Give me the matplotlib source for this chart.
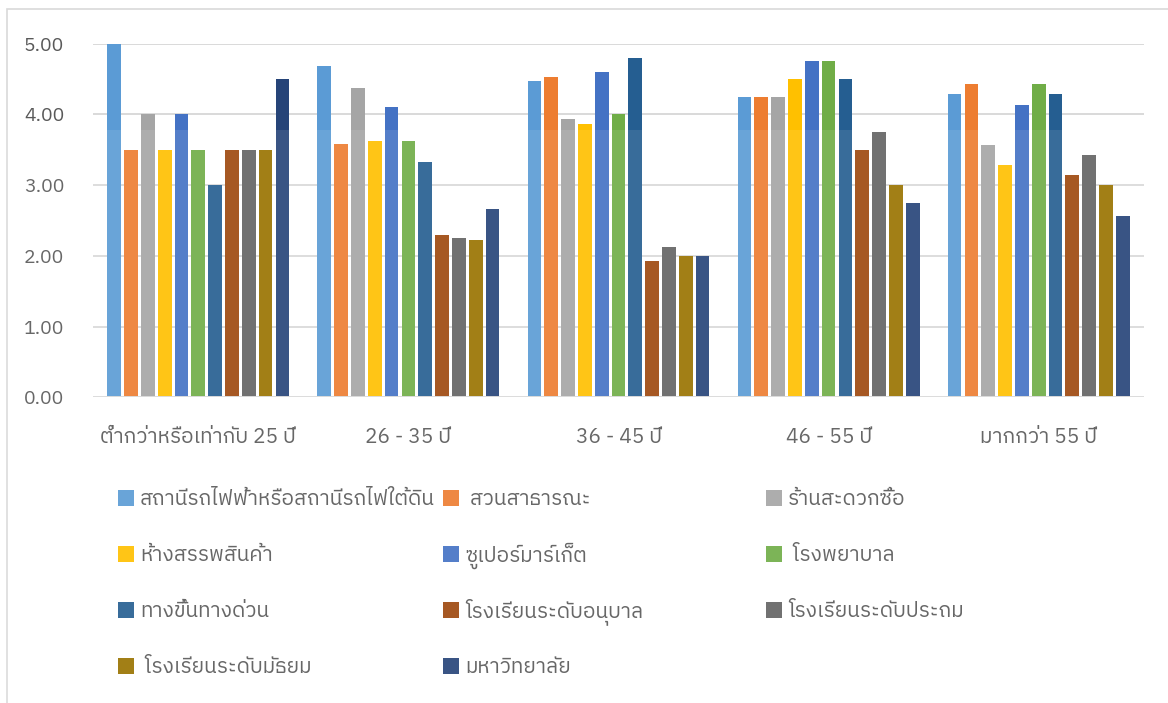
import numpy as np
import matplotlib
matplotlib.use('Agg')
import matplotlib.pyplot as plt
from matplotlib import font_manager
from matplotlib.ft2font import FT2Font
from matplotlib.patches import Rectangle

age_groups = ['ต่ำกว่าหรือเท่ากับ 25 ปี', '26 - 35 ปี', '36 - 45 ปี',
              '46 - 55 ปี', 'มากกว่า 55 ปี']

places = ['สถานีรถไฟฟ้าหรือสถานีรถไฟใต้ดิน', ' สวนสาธารณะ', 'ร้านสะดวกซื้อ',
          'ห้างสรรพสินค้า', 'ซูเปอร์มาร์เก็ต', ' โรงพยาบาล',
          'ทางขึ้นทางด่วน', 'โรงเรียนระดับอนุบาล', 'โรงเรียนระดับประถม',
          ' โรงเรียนระดับมัธยม', 'มหาวิทยาลัย']

# mean score of each place, one list per age group (same order as places)
age_25_down = [5.00, 3.50, 4.00, 3.50, 4.00, 3.50, 3.00, 3.50, 3.50, 3.50, 4.50]
age_26_35 = [4.69, 3.58, 4.38, 3.63, 4.10, 3.63, 3.33, 2.29, 2.25, 2.23, 2.67]
age_36_45 = [4.47, 4.53, 3.93, 3.87, 4.60, 4.00, 4.80, 1.93, 2.13, 2.00, 2.00]
age_46_55 = [4.25, 4.25, 4.25, 4.50, 4.75, 4.75, 4.50, 3.50, 3.75, 3.00, 2.75]
age_55_up = [4.29, 4.43, 3.57, 3.29, 4.14, 4.43, 4.29, 3.14, 3.43, 3.00, 2.57]

colors = ['#5B9BD5', '#ED7D31', '#A5A5A5', '#FFC000', '#4472C4', '#70AD47',
          '#255E91', '#9E480E', '#636363', '#997300', '#264478']


def find_thai_font():
    # look for an installed family that actually has Thai glyphs
    found = []
    for f in font_manager.fontManager.ttflist:
        try:
            cmap = FT2Font(f.fname).get_charmap()
        except Exception:
            continue
        if 0x0E01 in cmap and 0x0E35 in cmap:
            found.append(f.name)
    if not found:
        return None
    found.sort(key=lambda n: (0 if 'Thai' in n else 1, 0 if 'Sans' in n else 1, n))
    return found[0]


thai = find_thai_font()
fams = ([thai] if thai else []) + ['Noto Sans', 'DejaVu Sans']
plt.rcParams['font.family'] = fams

W, H = 1168, 703
fig = plt.figure(figsize=(W / 100, H / 100), dpi=100)
ax = fig.add_axes([93.3 / W, 1 - 397.4 / H, 1050.4 / W, (397.4 - 43.7) / H])

scores = np.array([age_25_down, age_26_35, age_36_45, age_46_55, age_55_up])
x = np.arange(len(age_groups))
slot = 0.0801
bw = 0.0652
handles = []
for j, name in enumerate(places):
    b = ax.bar(x + (j - 5) * slot, scores[:, j], bw, color=colors[j],
               linewidth=0, zorder=3)
    handles.append(b)

ax.set_xlim(-0.5, 4.5)
ax.set_ylim(0, 5)
ax.set_yticks(np.arange(0, 5.01, 1))
ax.set_yticklabels(['%.2f' % v for v in np.arange(0, 5.01, 1)])
ax.set_xticks(x)
ax.set_xticklabels(age_groups)
ax.grid(axis='y', color='#D9D9D9', linewidth=1.4, zorder=0)
ax.set_axisbelow(True)
for s in ax.spines.values():
    s.set_visible(False)
ax.axhline(0, color='#D9D9D9', linewidth=1.4, zorder=4)
ax.tick_params(axis='both', length=0, colors='#595959')
ax.tick_params(axis='y', pad=21, labelsize=14)
ax.tick_params(axis='x', pad=22, labelsize=15)

# legend laid out as a 3-column grid, each entry placed on its own
col_x = [118, 443, 766]
row_y = [499.5, 555.5, 611.5, 667.5]
for k, (h, lab) in enumerate(zip(handles, places)):
    r, c = divmod(k, 3)
    fig.legend([h], [lab], loc='center left',
               bbox_to_anchor=(col_x[c] / W, 1 - row_y[r] / H),
               frameon=False, borderpad=0, borderaxespad=0,
               handlelength=0.77, handleheight=0.77, handletextpad=0.28,
               fontsize=15, labelcolor='#595959')

# chart frame, running off the right and bottom edges
fig.add_artist(Rectangle((7 / W, -0.1), 1.2, 1.1 - 9 / H, transform=fig.transFigure,
                         fill=False, edgecolor='#D9D9D9', linewidth=1.2))
# light wash over the lower part of the page
fig.add_artist(Rectangle((0, 0), 1, 1 - 130 / H, transform=fig.transFigure,
                         facecolor='white', edgecolor='none', alpha=0.09, zorder=10))

fig.savefig('out.png', dpi=100)
